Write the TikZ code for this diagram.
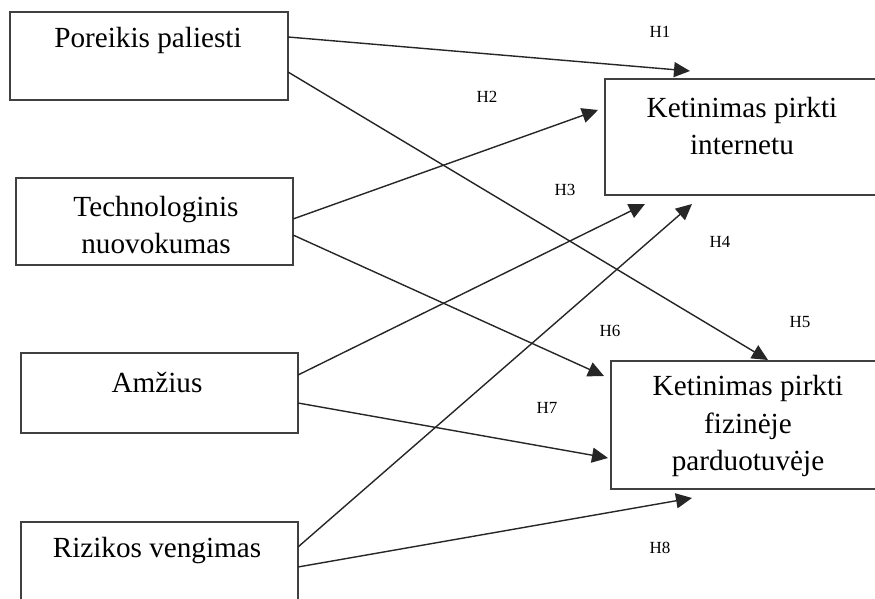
\documentclass[tikz,border=0pt]{standalone}
\usepackage{fontspec}
\setmainfont{Liberation Serif}
\usepackage{tikz}
\usetikzlibrary{arrows.meta}
\tikzstyle{factorbox}=[rectangle,draw=black!75,line width=0.75pt,
                       inner sep=0pt]
\tikzstyle{factortext}=[align=center,inner sep=0pt,
                        font=\fontsize{14.6}{18.8}\selectfont]
\tikzstyle{hyplabel}=[inner sep=0pt,font=\fontsize{8.5}{10}\selectfont]
\tikzstyle{hyparrow}=[draw=black!85,line width=0.7pt,
                      -{Triangle[length=8pt,width=7.5pt]}]

\begin{document}
\begin{tikzpicture}[x=0.5pt,y=-0.5pt]
    \useasboundingbox (0,0) rectangle (875,599);
    \clip (0,0) rectangle (875,599);
    % left side boxes
    \node (pp) at (149,56) [factorbox,minimum width=139pt,minimum height=44pt]{};
    \node (tn) at (154.5,221.5) [factorbox,minimum width=138.5pt,minimum height=43.5pt]{};
    \node (am) at (159.5,393) [factorbox,minimum width=138.5pt,minimum height=40pt]{};
    \node (rv) at (159.5,581) [factorbox,minimum width=138.5pt,minimum height=59pt]{};
    % right side boxes
    \node (ki) at (747.5,137) [factorbox,minimum width=142.5pt,minimum height=58pt]{};
    \node (kf) at (750.5,425) [factorbox,minimum width=139.5pt,minimum height=64pt]{};
    % texts
    \node (ppt) at (148,40) [factortext]{Poreikis paliesti};
    \node (tnt) at (156,225) [factortext]{Technologinis\\nuovokumas};
    \node (amt) at (157,382) [factortext]{Amžius};
    \node (rvt) at (157,551) [factortext]{Rizikos vengimas};
    \node (kit) at (742,126) [factortext]{Ketinimas pirkti\\internetu};
    \node (kft) at (748,426) [factortext]{Ketinimas pirkti\\fizinėje\\parduotuvėje};
    % arrow ends
    \coordinate (pp1) at (288,37);  \coordinate (pp2) at (288,72);
    \coordinate (tn1) at (293,219); \coordinate (tn2) at (293,235);
    \coordinate (am1) at (298,375); \coordinate (am2) at (298,403);
    \coordinate (rv1) at (298,547); \coordinate (rv2) at (298,567);
    \coordinate (ki1) at (690,71);  \coordinate (ki2) at (598,110);
    \coordinate (ki3) at (645,204); \coordinate (ki4) at (692,204);
    \coordinate (kf1) at (768,360); \coordinate (kf2) at (604,376);
    \coordinate (kf3) at (608,458); \coordinate (kf4) at (692,498);
    \draw[hyparrow] (pp1) -- (ki1);
    \draw[hyparrow] (pp2) -- (kf1);
    \draw[hyparrow] (tn1) -- (ki2);
    \draw[hyparrow] (tn2) -- (kf2);
    \draw[hyparrow] (am1) -- (ki3);
    \draw[hyparrow] (am2) -- (kf3);
    \draw[hyparrow] (rv1) -- (ki4);
    \draw[hyparrow] (rv2) -- (kf4);
    % hypotheses
    \node (h1) at (660,32) [hyplabel]{H1};
    \node (h2) at (487,97) [hyplabel]{H2};
    \node (h3) at (565,190) [hyplabel]{H3};
    \node (h4) at (720,242) [hyplabel]{H4};
    \node (h5) at (800,322) [hyplabel]{H5};
    \node (h6) at (610,331) [hyplabel]{H6};
    \node (h7) at (547,408) [hyplabel]{H7};
    \node (h8) at (660,548) [hyplabel]{H8};
\end{tikzpicture}
\end{document}
